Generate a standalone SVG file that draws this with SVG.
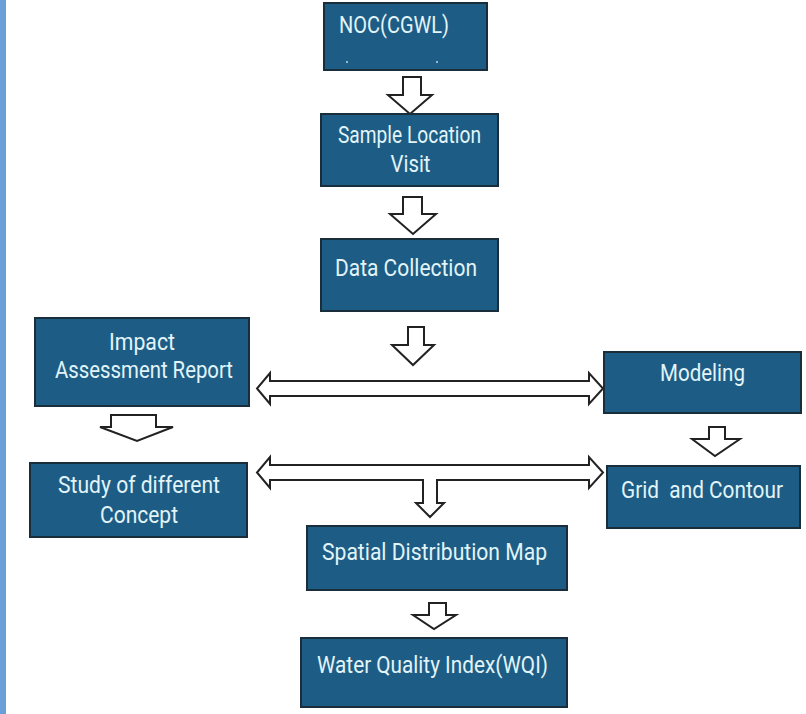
<svg xmlns="http://www.w3.org/2000/svg" width="806" height="714" viewBox="0 0 806 714">
<style>
.box{fill:#1d5d85;stroke:#1a2d3a;stroke-width:2}
.t{font-family:Roboto,"Liberation Sans",sans-serif;font-size:23.5px;fill:#e2f4f8}
.arr{fill:#ffffff;stroke:#222;stroke-width:2;stroke-linejoin:miter}
</style>
<rect x="0" y="0" width="806" height="714" fill="#ffffff"/>
<rect x="0" y="0" width="6" height="714" fill="#6a9fd8"/>
<g id="connectors">
<path class="arr" d="M403,77 H421 V95 H432 L410,114 L388,95 H403 Z"/>
<path class="arr" d="M403,197 H422 V214 H436 L413,234 L390,214 H403 Z"/>
<path class="arr" d="M408,327 H424 V345 H434 L413,365 L392,345 H408 Z"/>
<path class="arr" d="M270,381 H589 V373 L603,388.5 L589,404 V396 H270 V404 L257,388.5 L270,373 Z"/>
<path class="arr" d="M111,415 H156 V427 H173 L137,441 L100,427 H111 Z"/>
<path class="arr" d="M709,427 H725 V439 H740 L715,456 L692,439 H709 Z"/>
<path class="arr" d="M270,465 H589 V457 L603,472.5 L589,488 V480 H437 V503 H444 L430,517 L416,503 H423 V480 H270 V488 L257,472.5 L270,457 Z"/>
<path class="arr" d="M429,603 H446 V615 H456 L434,629 L413,615 H429 Z"/>
</g>
<g id="noc">
<rect class="box" x="324" y="3" width="163" height="67"/>
<text class="t" x="339" y="33" textLength="110" lengthAdjust="spacingAndGlyphs">NOC(CGWL)</text>
<circle cx="347" cy="62" r="0.9" fill="#cfe6ee"/>
<circle cx="437" cy="62" r="0.9" fill="#cfe6ee"/>
</g>
<g id="sample">
<rect class="box" x="321" y="114" width="177" height="72"/>
<text class="t" x="409.5" y="143" text-anchor="middle" textLength="143" lengthAdjust="spacingAndGlyphs">Sample Location</text>
<text class="t" x="410.5" y="172" text-anchor="middle" textLength="40" lengthAdjust="spacingAndGlyphs">Visit</text>
</g>
<g id="data">
<rect class="box" x="321" y="239" width="177" height="72"/>
<text class="t" x="406" y="276" text-anchor="middle" textLength="142" lengthAdjust="spacingAndGlyphs">Data Collection</text>
</g>
<g id="impact">
<rect class="box" x="35" y="318" width="214" height="88"/>
<text class="t" x="142" y="350" text-anchor="middle" textLength="66" lengthAdjust="spacingAndGlyphs">Impact</text>
<text class="t" x="144" y="378" text-anchor="middle" textLength="178" lengthAdjust="spacingAndGlyphs">Assessment Report</text>
</g>
<g id="modeling">
<rect class="box" x="604" y="352" width="197" height="61"/>
<text class="t" x="702.5" y="381" text-anchor="middle" textLength="85" lengthAdjust="spacingAndGlyphs">Modeling</text>
</g>
<g id="study">
<rect class="box" x="30" y="463" width="217" height="74"/>
<text class="t" x="139" y="493" text-anchor="middle" textLength="162" lengthAdjust="spacingAndGlyphs">Study of different</text>
<text class="t" x="139" y="523" text-anchor="middle" textLength="78" lengthAdjust="spacingAndGlyphs">Concept</text>
</g>
<g id="grid">
<rect class="box" x="607" y="466" width="193" height="62"/>
<text class="t" x="702" y="498" text-anchor="middle" textLength="162" lengthAdjust="spacingAndGlyphs" xml:space="preserve">Grid  and Contour</text>
</g>
<g id="spatial">
<rect class="box" x="307" y="526" width="260" height="64"/>
<text class="t" x="434.5" y="560" text-anchor="middle" textLength="225" lengthAdjust="spacingAndGlyphs">Spatial Distribution Map</text>
</g>
<g id="wqi">
<rect class="box" x="301" y="638" width="266" height="69"/>
<text class="t" x="432.5" y="673" text-anchor="middle" textLength="231" lengthAdjust="spacingAndGlyphs">Water Quality Index(WQI)</text>
</g>
</svg>
